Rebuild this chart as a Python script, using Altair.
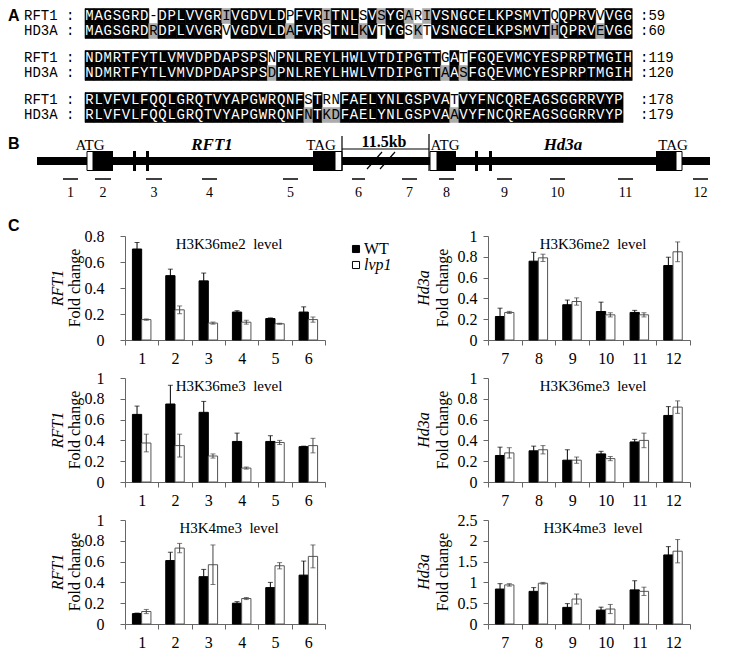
import altair as alt
import pandas as pd

# ---------------- Panel A : alignment ----------------
rft1_rows = ["MAGSGRD-DPLVVGRIVGDVLDPFVRITNLSVSYGARIVSNGCELKPSMVTQQPRVVVGG",
             "NDMRTFYTLVMVDPDAPSPSNPNLREYLHWLVTDIPGTTGATFGQEVMCYESPRPTMGIH",
             "RLVFVLFQQLGRQTVYAPGWRQNFSTRNFAELYNLGSPVATVYFNCQREAGSGGRRVYP"]
hd3a_rows = ["MAGSGRDRDPLVVGRVVGDVLDAFVRSTNLKVTYGSKTVSNGCELKPSMVTHQPRVEVGG",
             "NDMRTFYTLVMVDPDAPSPSDPNLREYLHWLVTDIPGTTAASFGQEVMCYESPRPTMGIH",
             "RLVFVLFQQLGRQTVYAPGWRQNFNTKDFAELYNLGSPVAAVYFNCQREAGSGGRRVYP"]
rft1_gray = [[15, 26, 32, 35, 37], [], []]
rft1_white = [[7, 22, 30, 36, 51, 56], [20, 39, 41], [24, 26, 27, 40]]
hd3a_gray = [[7, 22, 30, 36, 51, 56], [20, 39, 41], [24, 26, 27, 40]]
hd3a_white = [[15, 26, 32, 35, 37], [], []]
rft1_ends = [59, 119, 178]
hd3a_ends = [60, 120, 179]
seq_names = ["RFT1 :", "HD3A :"]

# ---------------- Panel B : gene structure ----------------
gene_line = [37, 710]
exon_black = [[93, 113], [313, 335], [437, 456], [656, 676]]
exon_white = [[87, 93], [335, 342], [430, 437], [676, 682]]
exon_thin = [[133, 136], [146, 149], [475, 478], [489, 492]]
probe_ranges = [[63, 78], [95, 111], [146, 162], [202, 217], [283, 298], [352, 365],
                [402, 417], [439, 454], [497, 512], [550, 565], [618, 633], [693, 708]]
probe_names = [str(i) for i in range(1, 13)]
codon_labels = ["ATG", "TAG", "ATG", "TAG"]
codon_x = [90, 321, 445, 673]
gene_names = ["RFT1", "Hd3a"]
gene_name_x = [212, 563]
gap_label = "11.5kb"

# ---------------- Panel C : ChIP data ----------------
sites_rft1 = ["1", "2", "3", "4", "5", "6"]
sites_hd3a = ["7", "8", "9", "10", "11", "12"]
genos = ["WT", "lvp1"]

k36me2_rft1_wt = [0.70, 0.495, 0.455, 0.215, 0.165, 0.215]
k36me2_rft1_wt_e = [0.05, 0.05, 0.06, 0.01, 0.005, 0.04]
k36me2_rft1_lv = [0.157, 0.232, 0.13, 0.137, 0.125, 0.157]
k36me2_rft1_lv_e = [0.005, 0.03, 0.008, 0.015, 0.004, 0.02]

k36me2_hd3a_wt = [0.226, 0.758, 0.339, 0.274, 0.265, 0.716]
k36me2_hd3a_wt_e = [0.08, 0.085, 0.045, 0.09, 0.02, 0.08]
k36me2_hd3a_lv = [0.265, 0.79, 0.37, 0.242, 0.242, 0.848]
k36me2_hd3a_lv_e = [0.01, 0.035, 0.035, 0.02, 0.02, 0.095]

k36me3_rft1_wt = [0.65, 0.75, 0.67, 0.39, 0.39, 0.34]
k36me3_rft1_wt_e = [0.08, 0.18, 0.105, 0.08, 0.055, 0.005]
k36me3_rft1_lv = [0.375, 0.35, 0.25, 0.134, 0.38, 0.35]
k36me3_rft1_lv_e = [0.085, 0.11, 0.02, 0.01, 0.02, 0.07]

k36me3_hd3a_wt = [0.255, 0.30, 0.21, 0.27, 0.385, 0.64]
k36me3_hd3a_wt_e = [0.08, 0.045, 0.10, 0.025, 0.025, 0.085]
k36me3_hd3a_lv = [0.28, 0.31, 0.21, 0.225, 0.40, 0.72]
k36me3_hd3a_lv_e = [0.05, 0.04, 0.03, 0.02, 0.07, 0.06]

k4me3_rft1_wt = [0.10, 0.61, 0.455, 0.20, 0.35, 0.47]
k4me3_rft1_wt_e = [0.005, 0.08, 0.07, 0.015, 0.05, 0.135]
k4me3_rft1_lv = [0.12, 0.73, 0.57, 0.245, 0.56, 0.65]
k4me3_rft1_lv_e = [0.02, 0.045, 0.19, 0.01, 0.03, 0.11]

k4me3_hd3a_wt = [0.84, 0.785, 0.40, 0.335, 0.82, 1.66]
k4me3_hd3a_wt_e = [0.13, 0.09, 0.09, 0.07, 0.22, 0.20]
k4me3_hd3a_lv = [0.94, 0.98, 0.60, 0.36, 0.785, 1.75]
k4me3_hd3a_lv_e = [0.03, 0.02, 0.12, 0.11, 0.10, 0.28]

SERIF = "Liberation Serif"
MONO = "Liberation Mono"
SANS = "Liberation Sans"

# ---------------- top chart (A + B + labels), page-pixel coordinates ----------------
TOP_H = 189
XS = alt.Scale(domain=[125, 325], nice=False, zero=False)
YS = alt.Scale(domain=[8, 8 + TOP_H], nice=False, zero=False, reverse=True)


def X(f):
    return alt.X(f, type="quantitative", scale=XS, axis=None)


def Y(f):
    return alt.Y(f, type="quantitative", scale=YS, axis=None)


SEQ_X0, CW, CH = 85, 9.12, 15
ROW_Y = [(15, 30), (57, 72), (99, 114)]
NUM_X = 640
shade_fill = {"b": "#000000", "g": "#ababab", "w": "#ffffff"}

cells = []
for b in range(3):
    for s, (seqs, grays, whites) in enumerate([(rft1_rows, rft1_gray, rft1_white),
                                              (hd3a_rows, hd3a_gray, hd3a_white)]):
        for c, ch in enumerate(seqs[b]):
            shade = "g" if c in grays[b] else ("w" if c in whites[b] else "b")
            yc = ROW_Y[b][s]
            cells.append(dict(x0=SEQ_X0 + c * CW, x1=SEQ_X0 + (c + 1) * CW,
                              xc=SEQ_X0 + (c + 0.5) * CW, y0=yc - CH / 2, y1=yc + CH / 2,
                              yc=yc, ch=ch, fill=shade_fill[shade],
                              tc="#ffffff" if shade == "b" else "#000000"))
cells = pd.DataFrame(cells)
shaded = cells[cells["fill"] != "#ffffff"]

cell_rects = alt.Chart(shaded).mark_rect(strokeWidth=0.6).encode(
    x=X("x0"), x2="x1", y=Y("y0"), y2="y1",
    fill=alt.Fill("fill:N", scale=None), stroke=alt.Stroke("fill:N", scale=None))
cell_text = alt.Chart(cells).mark_text(font=MONO, fontSize=14, baseline="middle", align="center").encode(
    x=X("xc"), y=Y("yc"), text="ch:N", color=alt.Color("tc:N", scale=None))

lab_rows = []
for b in range(3):
    for s in range(2):
        lab_rows.append(dict(x=24, y=ROW_Y[b][s], t=seq_names[s]))
        lab_rows.append(dict(x=NUM_X, y=ROW_Y[b][s], t=":" + str([rft1_ends, hd3a_ends][s][b])))
seq_labels = alt.Chart(pd.DataFrame(lab_rows)).mark_text(
    font=MONO, fontSize=14, baseline="middle", align="left", color="black").encode(
    x=X("x"), y=Y("y"), text="t:N")

panel_letters = alt.Chart(pd.DataFrame(dict(x=[8, 8, 8], y=[15, 143, 225], t=["A", "B", "C"]))).mark_text(
    font=SANS, fontSize=16, fontWeight="bold", baseline="middle", align="left", color="black").encode(
    x=X("x"), y=Y("y"), text="t:N")

LINE_Y = 160
line_df = pd.DataFrame(dict(x0=[gene_line[0]], x1=[gene_line[1]], y0=[LINE_Y - 4], y1=[LINE_Y + 4]))
gline = alt.Chart(line_df).mark_rect(color="black").encode(x=X("x0"), x2="x1", y=Y("y0"), y2="y1")

eb = pd.DataFrame(dict(x0=[e[0] for e in exon_black + exon_thin], x1=[e[1] for e in exon_black + exon_thin]))
eb["y0"], eb["y1"] = 150, 170
exons_b = alt.Chart(eb).mark_rect(color="black").encode(x=X("x0"), x2="x1", y=Y("y0"), y2="y1")
ew = pd.DataFrame(dict(x0=[e[0] for e in exon_white], x1=[e[1] for e in exon_white]))
ew["y0"], ew["y1"] = 150.5, 169.5
exons_w = alt.Chart(ew).mark_rect(fill="white", stroke="black", strokeWidth=1).encode(
    x=X("x0"), x2="x1", y=Y("y0"), y2="y1")

seg = pd.DataFrame(dict(
    x0=[342, 429, 342, 367, 380], x1=[342, 429, 429, 382, 395],
    y0=[135, 133, 148, 168, 168], y1=[170, 170, 148, 151, 151]))
segs = alt.Chart(seg).mark_rule(color="black", strokeWidth=1.2).encode(
    x=X("x0"), x2="x1", y=Y("y0"), y2="y1")

pr = pd.DataFrame(dict(x0=[p[0] for p in probe_ranges], x1=[p[1] for p in probe_ranges],
                       xc=[(p[0] + p[1]) / 2 for p in probe_ranges], t=probe_names))
pr["y"], pr["ty"] = 178, 192
probes = alt.Chart(pr).mark_rule(color="black", strokeWidth=1.5).encode(
    x=X("x0"), x2="x1", y=Y("y"), y2="y")
probe_txt = alt.Chart(pr).mark_text(font=SERIF, fontSize=14, baseline="middle", align="center",
                                    color="black").encode(x=X("xc"), y=Y("ty"), text="t:N")

cod = pd.DataFrame(dict(x=codon_x, t=codon_labels))
cod["y"] = 144
codons = alt.Chart(cod).mark_text(font=SERIF, fontSize=15, baseline="middle", align="center",
                                  color="black").encode(x=X("x"), y=Y("y"), text="t:N")
gn = pd.DataFrame(dict(x=gene_name_x, t=gene_names))
gn["y"] = 144
gnames = alt.Chart(gn).mark_text(font=SERIF, fontSize=17, fontWeight="bold", fontStyle="italic",
                                 baseline="middle", align="center", color="black").encode(
    x=X("x"), y=Y("y"), text="t:N")
gap = alt.Chart(pd.DataFrame(dict(x=[384], y=[146], t=[gap_label]))).mark_text(
    font=SERIF, fontSize=16, fontWeight="bold", baseline="alphabetic", align="center", color="black").encode(
    x=X("x"), y=Y("y"), text="t:N")

leg = pd.DataFrame(dict(x=[356, 356], y=[248, 264], tx=[364, 364], t=genos,
                        f=["#000000", "#ffffff"]))
leg_sq = alt.Chart(leg).mark_point(shape="square", size=50, filled=True, stroke="black",
                                   strokeWidth=1, opacity=1).encode(
    x=X("x"), y=Y("y"), fill=alt.Fill("f:N", scale=None))
leg_wt = alt.Chart(leg[leg.t == "WT"]).mark_text(font=SERIF, fontSize=16, baseline="middle",
                                                 align="left", color="black").encode(
    x=X("tx"), y=Y("y"), text="t:N")
leg_lv = alt.Chart(leg[leg.t == "lvp1"]).mark_text(font=SERIF, fontSize=16, fontStyle="italic",
                                                   baseline="middle", align="left", color="black").encode(
    x=X("tx"), y=Y("y"), text="t:N")

top_left = alt.layer(cell_rects, cell_text, seq_labels, panel_letters, gline, exons_b, exons_w, segs,
                     probes, probe_txt, codons, gnames, gap, leg_sq, leg_wt, leg_lv).properties(
    width=200, height=TOP_H)
top_right = alt.Chart(pd.DataFrame(dict(a=[0]))).mark_point(opacity=0, size=0).encode(
    x=alt.value(0), y=alt.value(0)).properties(width=202, height=TOP_H)

PH = 104


# ---------------- bar panels ----------------
def panel(gene, sites, wt, wt_e, lv, lv_e, ymax, ystep, title, lab_pad, t1, t2, width):
    rows = []
    for i, s in enumerate(sites):
        rows.append(dict(site=s, geno="WT", v=wt[i], lo=wt[i] - wt_e[i], hi=wt[i] + wt_e[i]))
        rows.append(dict(site=s, geno="lvp1", v=lv[i], lo=lv[i] - lv_e[i], hi=lv[i] + lv_e[i]))
    df = pd.DataFrame(rows)
    ticks = []
    k = 0
    while k * ystep <= ymax + 1e-9:
        ticks.append(round(k * ystep, 3))
        k += 1
    xenc = alt.X("site:N", sort=sites, scale=alt.Scale(paddingInner=0, paddingOuter=0),
                 axis=alt.Axis(title=None, labelAngle=0, tickBand="extent", tickSize=5,
                               labelPadding=5, labelFontSize=16))
    xo = alt.XOffset("geno:N", sort=genos,
                     scale=alt.Scale(domain=genos, paddingInner=0, paddingOuter=0.8))
    ysc = alt.Scale(domain=[0, ymax], nice=False, zero=True)
    yax = alt.Axis(title=None, values=ticks, format=".1~f", labelPadding=lab_pad, tickSize=5,
                   labelFontSize=16)
    base = alt.Chart(df)
    bars = base.mark_bar(strokeWidth=1).encode(
        x=xenc, xOffset=xo, y=alt.Y("v:Q", scale=ysc, axis=yax),
        fill=alt.Fill("geno:N", scale=alt.Scale(domain=genos, range=["#000000", "#ffffff"]), legend=None),
        stroke=alt.Stroke("geno:N", scale=alt.Scale(domain=genos, range=["#000000", "#555555"]), legend=None))
    ecol = alt.Color("geno:N", scale=alt.Scale(domain=genos, range=["#000000", "#444444"]), legend=None)
    err = base.mark_rule(strokeWidth=1).encode(
        x=xenc, xOffset=xo, y=alt.Y("lo:Q", scale=ysc, axis=yax), y2="hi:Q", color=ecol)
    cap_hi = base.mark_tick(thickness=1, size=5).encode(
        x=xenc, xOffset=xo, y=alt.Y("hi:Q", scale=ysc, axis=yax), color=ecol)
    cap_lo = base.mark_tick(thickness=1, size=5).encode(
        x=xenc, xOffset=xo, y=alt.Y("lo:Q", scale=ysc, axis=yax), color=ecol)
    ttl = alt.Chart(pd.DataFrame(dict(t=[title]))).mark_text(
        font=SERIF, fontSize=15, baseline="middle", align="center", color="black").encode(
        x=alt.value(width / 2 + 4), y=alt.value(8), text="t:N")
    g = alt.Chart(pd.DataFrame(dict(t=[gene]))).mark_text(
        font=SERIF, fontSize=16, fontStyle="italic", baseline="middle", align="center",
        angle=270, color="black").encode(x=alt.value(t1), y=alt.value(PH / 2), text="t:N")
    fc = alt.Chart(pd.DataFrame(dict(t=["Fold change"]))).mark_text(
        font=SERIF, fontSize=16, baseline="middle", align="center", angle=270,
        color="black").encode(x=alt.value(t2), y=alt.value(PH / 2), text="t:N")
    return alt.layer(bars, err, cap_hi, cap_lo, ttl, g, fc).properties(width=width, height=PH)


lvl = ["H3K36me2\u00a0 level", "H3K36me3\u00a0 level", "H3K4me3\u00a0 level"]
L = dict(lab_pad=16, t1=-67, t2=-50, width=200)
R = dict(lab_pad=6, t1=-64, t2=-45, width=202)

c1 = panel("RFT1", sites_rft1, k36me2_rft1_wt, k36me2_rft1_wt_e, k36me2_rft1_lv, k36me2_rft1_lv_e, 0.8, 0.2, lvl[0], **L)
c2 = panel("Hd3a", sites_hd3a, k36me2_hd3a_wt, k36me2_hd3a_wt_e, k36me2_hd3a_lv, k36me2_hd3a_lv_e, 1.0, 0.2, lvl[0], **R)
c3 = panel("RFT1", sites_rft1, k36me3_rft1_wt, k36me3_rft1_wt_e, k36me3_rft1_lv, k36me3_rft1_lv_e, 1.0, 0.2, lvl[1], **L)
c4 = panel("Hd3a", sites_hd3a, k36me3_hd3a_wt, k36me3_hd3a_wt_e, k36me3_hd3a_lv, k36me3_hd3a_lv_e, 1.0, 0.2, lvl[1], **R)
c5 = panel("RFT1", sites_rft1, k4me3_rft1_wt, k4me3_rft1_wt_e, k4me3_rft1_lv, k4me3_rft1_lv_e, 1.0, 0.2, lvl[2], **L)
c6 = panel("Hd3a", sites_hd3a, k4me3_hd3a_wt, k4me3_hd3a_wt_e, k4me3_hd3a_lv, k4me3_hd3a_lv_e, 2.5, 0.5, lvl[2], **R)

chart = alt.concat(top_left, top_right, c1, c2, c3, c4, c5, c6, columns=2,
                   spacing={"row": 38, "column": 163}, bounds="flush", padding=0,
                   background="white").configure_view(stroke=None).configure_axis(
    labelFont=SERIF, labelColor="black", domainColor="#666666", tickColor="#666666",
    grid=False, domainWidth=1, tickWidth=1)

chart.save("out.html", embed_options={"renderer": "svg", "actions": False})
